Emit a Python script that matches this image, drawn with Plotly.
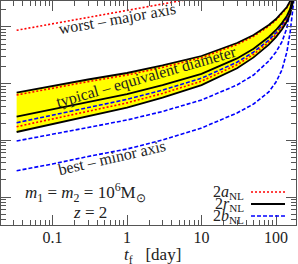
import plotly.graph_objects as go

# time before merger grid (days)
t_grid = [0.033, 0.1, 0.3, 1, 3, 10, 30, 50, 80, 100, 120, 140, 155, 165, 172, 178]

# worst-case major axis (2a_NL)
t_worst = [0.033, 0.1, 0.3, 1, 3, 10, 30]
a_worst = [875, 1130, 1470, 1915, 2545, 3380, 4495]

# typical (band) curves
r_upper = [69.3, 90.9, 118.4, 154.2, 209.2, 307.6, 521.9, 722.3, 1084, 1384, 1766, 2253, 2874, 3668, 4875, 20000]
a_upper = [63.1, 83.2, 108.7, 142.2, 193.6, 287.2, 490.9, 685, 1033, 1323, 1695, 2172, 2783, 3566, 4757, 20000]
r_mid = [26.12, 35.29, 47.86, 65.44, 93.9, 149.3, 279.0, 414.0, 665.9, 884.9, 1171, 1569, 2086, 2738, 3713, 20000]
b_upper = [20.47, 27.87, 38.12, 52.77, 77.0, 124.8, 239.1, 360.6, 589.6, 789.9, 1058, 1435, 1922, 2545, 3465, 20000]
a_lower = [17.40, 23.78, 32.80, 45.76, 67.3, 110.5, 215.2, 328.4, 543.5, 734.2, 987.4, 1350, 1824, 2424, 3314, 20000]
r_lower = [14.03, 19.34, 26.88, 37.81, 56.52, 94.3, 187.4, 290.6, 487.0, 663.2, 903.0, 1250, 1695, 2272, 3119, 20000]
# minor axes
b_mid = [9.73, 12.67, 16.84, 22.85, 32.27, 51.48, 94.7, 142.2, 251.1, 362.0, 543.5, 959.8, 1839, 2761, 4143, 20000]
b_best = [2.911, 3.822, 5.184, 7.031, 10.13, 16.51, 30.36, 43.76, 71.27, 106.9, 174.2, 362.0, 815.6, 1628, 2651, 20000]

x_ticks = [0.1, 1, 10, 100]
x_tick_text = ["0.1", "1", "10", "100"]

RED = "#FF0000"
BLUE = "#0000FF"
BLACK = "#000000"
FONT = "Liberation Serif"
TXT = "#222222"
AX = "#555555"

fig = go.Figure()

# yellow band between r_lower and r_upper
fig.add_trace(go.Scatter(x=t_grid, y=r_lower, mode="lines", line=dict(width=0, color=BLACK),
                         showlegend=False, hoverinfo="skip"))
fig.add_trace(go.Scatter(x=t_grid, y=r_upper, mode="lines", line=dict(width=0, color=BLACK),
                         fill="tonexty", fillcolor="#FFFF00", showlegend=False, hoverinfo="skip"))

red_line = dict(color=RED, width=1.6, dash="2px,2px")
blue_line = dict(color=BLUE, width=1.6, dash="4px,2px")
black_line = dict(color=BLACK, width=1.8)

for ys in [b_mid, b_best, b_upper]:
    fig.add_trace(go.Scatter(x=t_grid, y=ys, mode="lines", line=blue_line, showlegend=False))
for ys in [a_upper, a_lower]:
    fig.add_trace(go.Scatter(x=t_grid, y=ys, mode="lines", line=red_line, showlegend=False))
fig.add_trace(go.Scatter(x=t_worst, y=a_worst, mode="lines", line=red_line, showlegend=False))
for ys in [r_upper, r_mid, r_lower]:
    fig.add_trace(go.Scatter(x=t_grid, y=ys, mode="lines", line=black_line, showlegend=False))

ann_font = dict(family=FONT, size=16, color=TXT)
annotations = [
    dict(text="worst – major axis", x=0.3966, y=0.918, textangle=-10),
    dict(text="typical – equivalent diameter", x=0.4932, y=0.6607, textangle=-16),
    dict(text="best – minor axis", x=0.3770, y=0.3027, textangle=-13),
]
for a in annotations:
    fig.add_annotation(xref="paper", yref="paper", showarrow=False, font=ann_font,
                       xanchor="center", yanchor="middle", **a)

fig.add_annotation(xref="paper", yref="paper", x=0.288, y=0.147, showarrow=False,
                   text="<i>m</i><sub>1</sub> = <i>m</i><sub>2</sub> = 10<sup>6</sup>M<sub>⊙</sub>",
                   font=dict(family=FONT, size=17, color=TXT), xanchor="center", yanchor="middle")
fig.add_annotation(xref="paper", yref="paper", x=0.3, y=0.0558, showarrow=False,
                   text="<i>z</i> = 2",
                   font=dict(family=FONT, size=17, color=TXT), xanchor="center", yanchor="middle")

# legend (manual)
leg_rows = [("2<i>a</i><sub>NL</sub>", 0.1473, dict(color=RED, width=1.6, dash="2px,2px")),
            ("2<i>r</i><sub>NL</sub>", 0.09375, dict(color=BLACK, width=1.8)),
            ("2<i>b</i><sub>NL</sub>", 0.0402, dict(color=BLUE, width=1.6, dash="4px,2px"))]
for label, yy, ln in leg_rows:
    fig.add_annotation(xref="paper", yref="paper", x=0.8305, y=yy - 0.001, showarrow=False,
                       text=label, font=dict(family=FONT, size=16, color=TXT),
                       xanchor="right", yanchor="middle")
    fig.add_shape(type="line", xref="paper", yref="paper", x0=0.8475, x1=0.9627, y0=yy, y1=yy,
                  line=ln)

# x-axis title
fig.add_annotation(xref="paper", yref="paper", x=0.515, y=-0.138, showarrow=False,
                   text="<i>t</i><sub>f</sub>   [day]",
                   font=dict(family=FONT, size=17, color=TXT), xanchor="center", yanchor="middle")

fig.update_xaxes(type="log", range=[-1.6913, 2.2685], showgrid=False, zeroline=False,
                 showline=True, linecolor=AX, linewidth=1, mirror="allticks",
                 ticks="inside", ticklen=10, tickcolor=AX, tickwidth=1,
                 tickvals=x_ticks, ticktext=x_tick_text,
                 tickfont=dict(family=FONT, size=16, color=TXT), ticklabelstandoff=-2,
                 minor=dict(ticks="inside", ticklen=5, tickcolor=AX, dtick="D1", showgrid=False))
fig.update_yaxes(type="log", range=[-0.4941, 3.4586], showgrid=False, zeroline=False,
                 showline=True, linecolor=AX, linewidth=1, mirror="allticks",
                 ticks="inside", ticklen=10, tickcolor=AX, tickwidth=1, dtick=1,
                 showticklabels=False,
                 minor=dict(ticks="inside", ticklen=5, tickcolor=AX, dtick="D1", showgrid=False))

fig.update_layout(width=298, height=264, margin=dict(l=1, r=2, t=1, b=39),
                  paper_bgcolor="white", plot_bgcolor="white", showlegend=False)

fig.write_html("out.html", config={"displayModeBar": False},
               post_script="document.body.style.margin='0';document.body.style.padding='0';")
